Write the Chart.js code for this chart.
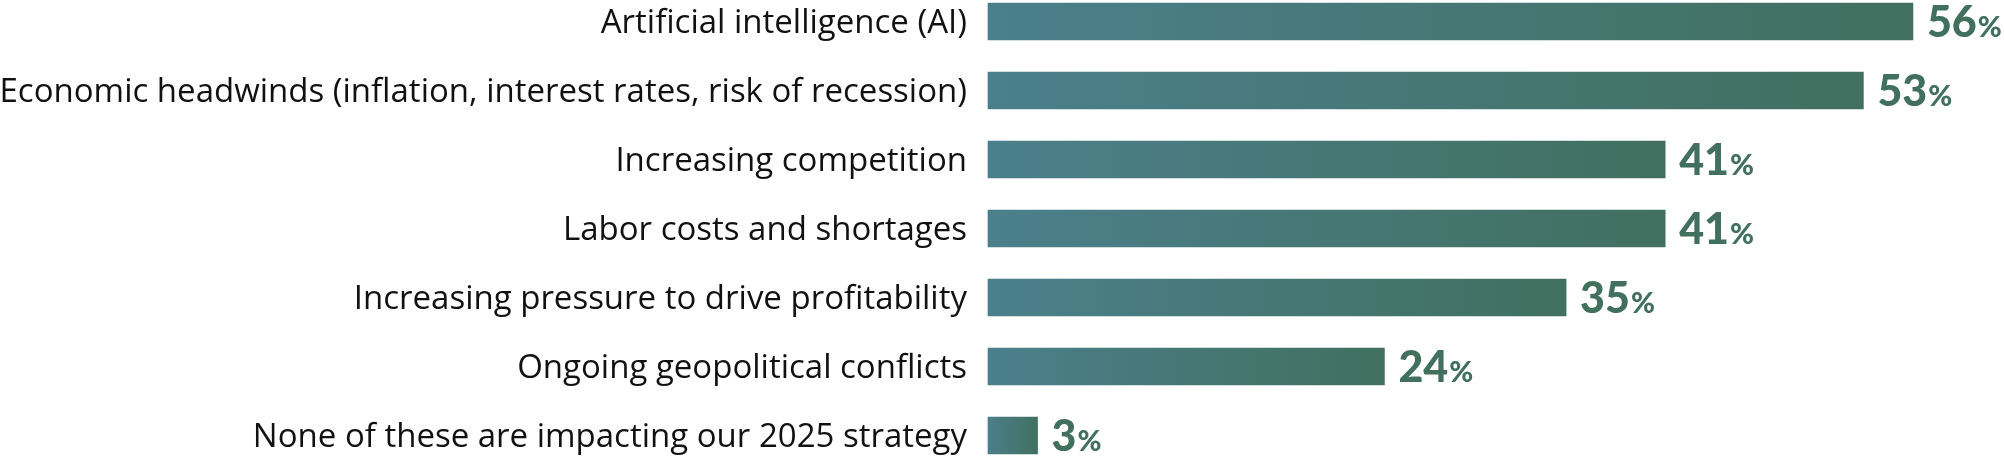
<!DOCTYPE html>
<html>
<head>
<meta charset="utf-8">
<script src="https://cdn.jsdelivr.net/npm/chart.js@4"></script>
<style>
  html, body { margin: 0; padding: 0; background: #fff; }
  #wrap { position: relative; width: 2004px; height: 459px; }
</style>
</head>
<body>
<div id="wrap"><canvas id="bars"></canvas></div>
<script>
const categories = [
    "Artificial intelligence (AI)",
    "Economic headwinds (inflation, interest rates, risk of recession)",
    "Increasing competition",
    "Labor costs and shortages",
    "Increasing pressure to drive profitability",
    "Ongoing geopolitical conflicts",
    "None of these are impacting our 2025 strategy"
];
const shares = [56, 53, 41, 41, 35, 24, 3];

const tealColor = "#4b7f8b";
const greenColor = "#41705f";

// gradient goes left->right inside each bar
function barGradient(ctx) {
    const chart = ctx.chart;
    const x = chart.scales.x;
    if (!x || ctx.raw === undefined) return greenColor;
    const x0 = x.getPixelForValue(0);
    const x1 = x.getPixelForValue(ctx.raw);
    if (!isFinite(x0) || !isFinite(x1)) return greenColor;
    const g = chart.ctx.createLinearGradient(x0, 0, Math.max(x1, x0 + 1), 0);
    g.addColorStop(0, tealColor);
    g.addColorStop(1, greenColor);
    return g;
}

const valueLabels = {
    id: "valueLabels",
    afterDatasetsDraw(chart) {
        const ctx = chart.ctx;
        const meta = chart.getDatasetMeta(0);
        ctx.save();
        ctx.fillStyle = greenColor;
        ctx.textBaseline = "alphabetic";
        meta.data.forEach((bar, i) => {
            const num = String(shares[i]);
            let x = bar.x + 14;
            const y = bar.y + 15;
            ctx.font = "900 43px Lato";
            ctx.fillText(num, x, y);
            x += ctx.measureText(num).width + 1;
            ctx.font = "900 29px Lato";
            ctx.fillText("%", x, y);
        });
        ctx.restore();
    }
};

new Chart(document.getElementById("bars").getContext("2d"), {
    type: "bar",
    data: {
        labels: categories,
        datasets: [{
            data: shares,
            backgroundColor: barGradient,
            barThickness: 37,
            clip: false
        }]
    },
    options: {
        indexAxis: "y",
        responsive: true,
        maintainAspectRatio: false,
        animation: false,
        devicePixelRatio: 1,
        layout: { padding: { top: 21.5, bottom: 23.5, left: 0, right: 25 } },
        plugins: { legend: { display: false }, tooltip: { enabled: false } },
        scales: {
            x: {
                min: 0,
                max: 60,
                display: false
            },
            y: {
                offset: false,
                grid: { display: false, drawTicks: false },
                border: { display: false },
                afterFit: (scale) => {
                    scale.width = 988;
                    scale.paddingTop = 0;
                    scale.paddingBottom = 0;
                },
                ticks: {
                    padding: 21,
                    labelOffset: 2,
                    color: "#111",
                    font: { family: "Open Sans", size: 33 }
                }
            }
        }
    },
    plugins: [valueLabels]
});
</script>
</body>
</html>
